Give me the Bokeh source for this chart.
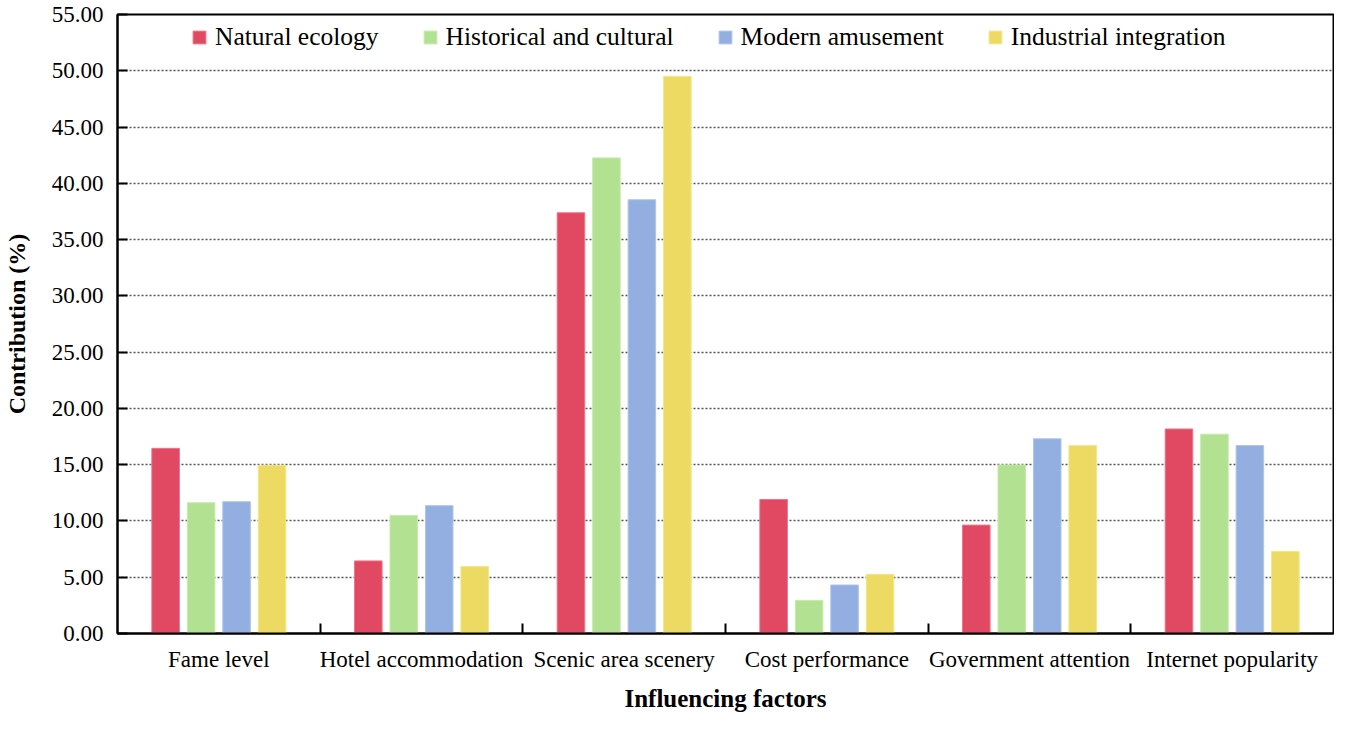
from bokeh.plotting import figure
from bokeh.models import FixedTicker, NumeralTickFormatter, Legend, LegendItem, ColumnDataSource
from bokeh.transform import dodge
from bokeh.embed import file_html
from bokeh.resources import INLINE

categories = ["Fame level", "Hotel accommodation", "Scenic area scenery",
              "Cost performance", "Government attention", "Internet popularity"]
series = ["Natural ecology", "Historical and cultural", "Modern amusement", "Industrial integration"]
natural = [16.45, 6.45, 37.38, 11.91, 9.63, 18.17]
historical = [11.62, 10.49, 42.26, 2.95, 14.97, 17.71]
modern = [11.71, 11.36, 38.54, 4.31, 17.30, 16.70]
industrial = [14.95, 5.95, 49.50, 5.26, 16.70, 7.29]
y_ticks = [0, 5, 10, 15, 20, 25, 30, 35, 40, 45, 50, 55]

colors = ["#E14962", "#B1E191", "#93AEE0", "#EDDA62"]
edge = ["#EC7387", "#C8EBAE", "#B0C4EA", "#F3E68C"]
FONT = "Liberation Serif"

centers = [i + 0.5 for i in range(len(categories))]
bounds = [i for i in range(1, len(categories))]
src = ColumnDataSource(dict(x=centers, natural=natural, historical=historical,
                            modern=modern, industrial=industrial))

p = figure(width=1334, height=717, x_range=(0, len(categories)), y_range=(0, 55),
           output_backend="svg", toolbar_location=None,
           min_border_left=114, min_border_right=1, min_border_top=14, min_border_bottom=84)

step = 0.175
bw = 0.136
offsets = [-1.5 * step, -0.5 * step, 0.5 * step, 1.5 * step]
keys = ["natural", "historical", "modern", "industrial"]
renderers = []
for k, off, c, e in zip(keys, offsets, colors, edge):
    r = p.vbar(x=dodge("x", off), top=k, bottom=0, width=bw, source=src,
               fill_color=c, line_color=e, line_width=1)
    renderers.append(r)

# axes
p.xaxis.ticker = FixedTicker(ticks=centers, minor_ticks=bounds)
p.xaxis.major_label_overrides = {c: lab for c, lab in zip(centers, categories)}
p.xaxis.major_tick_line_color = None
p.xaxis.minor_tick_in = 10
p.xaxis.minor_tick_out = 0
p.xaxis.minor_tick_line_width = 2
p.xaxis.minor_tick_line_color = "black"
p.xaxis.axis_line_width = 2
p.xaxis.axis_line_color = "black"
p.xaxis.major_label_text_font = FONT
p.xaxis.major_label_text_font_size = "23px"
p.xaxis.major_label_text_color = "black"
p.xaxis.major_label_standoff = 7
p.xaxis.axis_label = "Influencing factors"
p.xaxis.axis_label_text_font = FONT
p.xaxis.axis_label_text_font_size = "25px"
p.xaxis.axis_label_text_font_style = "bold"
p.xaxis.axis_label_text_color = "black"
p.xaxis.axis_label_standoff = 10

p.yaxis.ticker = FixedTicker(ticks=y_ticks, minor_ticks=[])
p.yaxis.formatter = NumeralTickFormatter(format="0.00")
p.yaxis.major_tick_in = 10
p.yaxis.major_tick_out = 0
p.yaxis.major_tick_line_width = 2
p.yaxis.major_tick_line_color = "black"
p.yaxis.axis_line_width = 2
p.yaxis.axis_line_color = "black"
p.yaxis.major_label_text_font = FONT
p.yaxis.major_label_text_font_size = "23px"
p.yaxis.major_label_text_color = "black"
p.yaxis.major_label_standoff = 14
p.yaxis.axis_label = "Contribution (%)"
p.yaxis.axis_label_text_font = FONT
p.yaxis.axis_label_text_font_size = "24px"
p.yaxis.axis_label_text_font_style = "bold"
p.yaxis.axis_label_text_color = "black"
p.yaxis.axis_label_standoff = 19

p.xgrid.grid_line_color = None
p.ygrid.grid_line_color = "#555555"
p.ygrid.grid_line_dash = "2 2"
p.ygrid.grid_line_width = 1.5

p.outline_line_color = "black"
p.outline_line_width = 2
p.outline_line_alpha = 1

legend = Legend(items=[LegendItem(label=s, renderers=[r]) for s, r in zip(series, renderers)],
                orientation="horizontal", location=(74, 581))
legend.label_text_font = FONT
legend.label_text_font_size = "25.5px"
legend.label_text_color = "black"
legend.glyph_width = 16
legend.glyph_height = 16
legend.label_standoff = 8
legend.spacing = 43
legend.padding = 0
legend.margin = 0
legend.border_line_color = None
legend.background_fill_alpha = 0
legend.label_height = 24
p.add_layout(legend, "center")

open("out.html", "w").write(file_html(p, INLINE))
